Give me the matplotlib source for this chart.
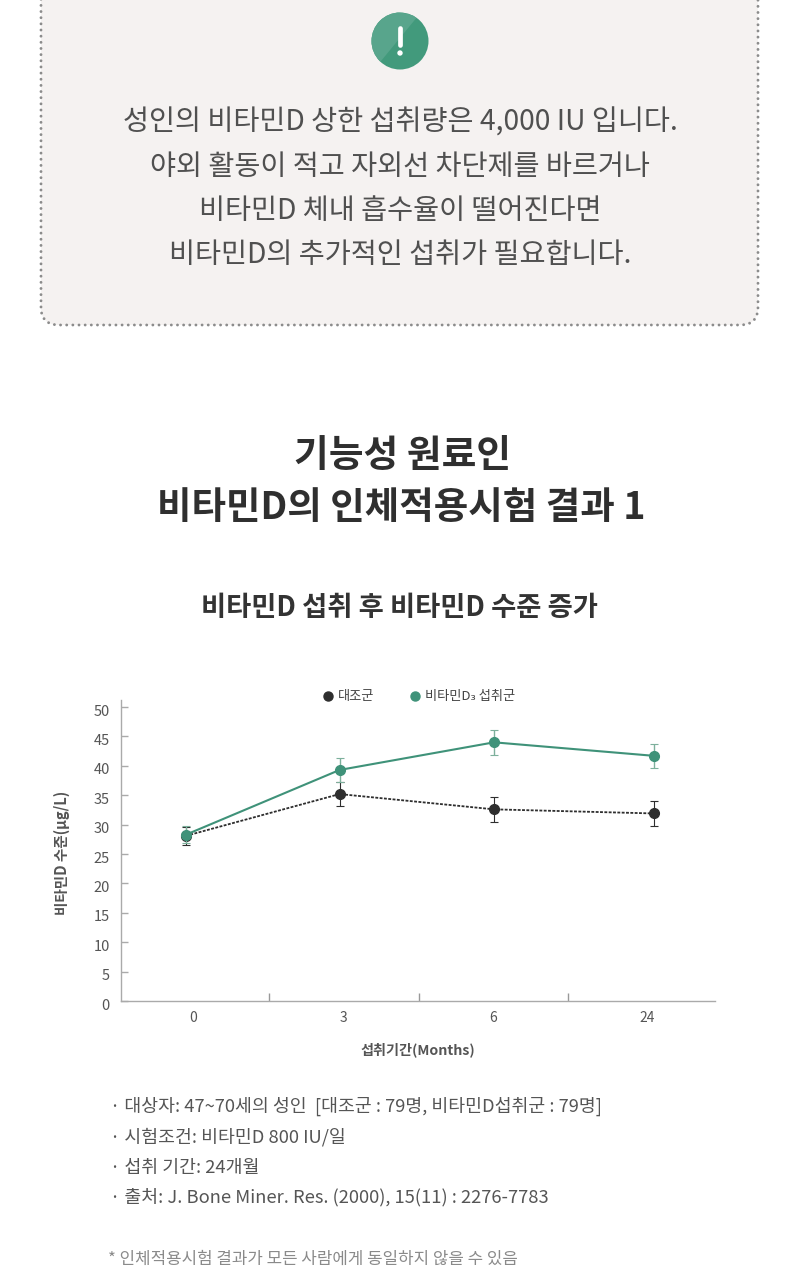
import matplotlib
matplotlib.use("Agg")
import matplotlib.pyplot as plt
from matplotlib.lines import Line2D
from matplotlib.patches import Circle, FancyBboxPatch, Polygon
from matplotlib.transforms import ScaledTranslation

plt.rcParams['font.family'] = ['Noto Sans CJK KR', 'DejaVu Sans']

months = ['0', '3', '6', '24']
control_values = [28.1, 35.2, 32.6, 31.9]
control_errors = [1.5, 2.1, 2.1, 2.1]
vitd_values = [28.3, 39.3, 44.0, 41.7]
vitd_errors = [1.5, 2.1, 2.1, 2.1]
y_ticks = [0, 5, 10, 15, 20, 25, 30, 35, 40, 45, 50]

notice_lines = [
    "성인의 비타민D 상한 섭취량은 4,000 IU 입니다.",
    "야외 활동이 적고 자외선 차단제를 바르거나",
    "비타민D 체내 흡수율이 떨어진다면",
    "비타민D의 추가적인 섭취가 필요합니다.",
]
info_lines = [
    "· 대상자: 47~70세의 성인  [대조군 : 79명, 비타민D섭취군 : 79명]",
    "· 시험조건: 비타민D 800 IU/일",
    "· 섭취 기간: 24개월",
    "· 출처: J. Bone Miner. Res. (2000), 15(11) : 2276-7783",
]

GREEN = '#3f9279'
DARK = '#2e2e2e'
W, H = 800, 1280

fig = plt.figure(figsize=(W / 100, H / 100), dpi=100, facecolor='white')

# page layer, measured in pixels
page = fig.add_axes([0, 0, 1, 1])
page.set_xlim(0, W)
page.set_ylim(H, 0)
page.axis('off')

# notice box runs off the top edge, round dots along the border
box = FancyBboxPatch((41, -40), 717, 365, boxstyle="round,pad=0,rounding_size=18",
                     facecolor='#f5f2f1', edgecolor='#8c8c8c', linewidth=2.1,
                     linestyle=(0, (0.01, 2.1)), capstyle='round')
page.add_patch(box)

# warning badge, two tones split on the diagonal
badge = Circle((400, 41), 28.5, facecolor='#429a7c', edgecolor='none')
page.add_patch(badge)
shade = Polygon([(372, 72), (418, 16), (340, 0), (340, 72)], facecolor='#58a58c', edgecolor='none')
page.add_patch(shade)
shade.set_clip_path(badge)
page.plot([400, 400], [28, 45], color='white', lw=3.4, solid_capstyle='round')
page.add_patch(Circle((400, 53), 2.7, facecolor='white', edgecolor='none'))

for line, y in zip(notice_lines, [123, 167, 211, 255]):
    page.text(400, y, line, ha='center', va='center', fontsize=20.4, color='#505050', fontweight='light')

page.text(403, 456, "기능성 원료인", ha='center', va='center', fontsize=27.2, color='#2f2f2f', fontweight='bold')
page.text(401, 507, "비타민D의 인체적용시험 결과 1", ha='center', va='center', fontsize=27, color='#2f2f2f', fontweight='bold')
page.text(399, 608, "비타민D 섭취 후 비타민D 수준 증가", ha='center', va='center', fontsize=19.7, color='#333333', fontweight='bold')

for line, y in zip(info_lines, [1106, 1137, 1168, 1197]):
    page.text(110, y, line, ha='left', va='center', fontsize=13.2, color='#555555', fontweight='light')
page.text(108, 1259, "* 인체적용시험 결과가 모든 사람에게 동일하지 않을 수 있음", ha='left', va='center',
          fontsize=12.1, color='#8a8a8a', fontweight='light')

# chart, months sit on a category axis with slightly uneven spacing
ax = fig.add_axes([121 / W, 1 - 1001 / H, (715 - 121) / W, (1001 - 700) / H])
ax.patch.set_alpha(0)
x_pos = [0, 0.984, 1.974, 3]

ax.errorbar(x_pos, control_values, yerr=control_errors, color=DARK, ecolor=DARK, elinewidth=0.8, capsize=3.2,
            capthick=0.8, linewidth=1.3, linestyle=(0, (1.6, 0.8)), marker='o', markersize=7, zorder=3)
ax.errorbar(x_pos, vitd_values, yerr=vitd_errors, color=GREEN, ecolor='#7db09c', elinewidth=1, capsize=3.2,
            capthick=0.8, linewidth=1.5, marker='o', markersize=7, zorder=4)

ax.set_xlim(-0.417, 3.39)
ax.set_ylim(0, 51.2)
ax.set_yticks(y_ticks)
ax.set_xticks([0.045, 1.006, 1.968, 2.955])
ax.set_xticklabels(months)
ax.set_xticks([0.53, 1.49, 2.45], minor=True)
ax.tick_params(axis='y', direction='in', length=5, width=1, color='#aaaaaa', labelcolor='#555555',
               labelsize=10.5, pad=8)
ax.tick_params(axis='x', which='major', length=0, labelcolor='#555555', labelsize=10, pad=7)
ax.tick_params(axis='x', which='minor', direction='in', length=6, width=1, color='#999999')

# y numbers sit a little under their ticks
nudge = ScaledTranslation(0, -3 / 100, fig.dpi_scale_trans)
for lbl in ax.get_yticklabels():
    lbl.set_transform(lbl.get_transform() + nudge)

for side in ['top', 'right']:
    ax.spines[side].set_visible(False)
for side in ['left', 'bottom']:
    ax.spines[side].set_color('#aaaaaa')
    ax.spines[side].set_linewidth(1)

ax.set_ylabel("비타민D 수준(μg/L)", fontsize=10.5, color='#555555', fontweight='bold')
ax.set_xlabel("섭취기간(Months)", fontsize=10.2, color='#555555', fontweight='bold')
ax.xaxis.set_label_coords((418 - 121) / (715 - 121), -0.137)
ax.yaxis.set_label_coords((70 - 121) / (715 - 121), (1001 - 853) / (1001 - 700))

handles = [
    Line2D([], [], color=DARK, marker='o', markersize=6.5, linestyle='none', label='대조군'),
    Line2D([], [], color=GREEN, marker='o', markersize=6.5, linestyle='none', label='비타민D₃ 섭취군'),
]
ax.legend(handles=handles, ncol=2, frameon=False, fontsize=9.5, labelcolor='#444444', handletextpad=-0.2,
          columnspacing=2.05, loc='center', bbox_to_anchor=((415 - 121) / (715 - 121), (1001 - 697) / (1001 - 700)))

fig.savefig('out.png', dpi=100)
